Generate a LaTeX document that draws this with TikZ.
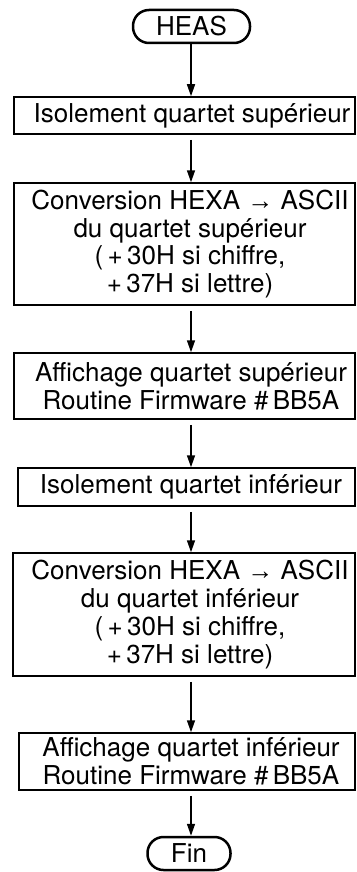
\documentclass[tikz,border=0pt]{standalone}
\usepackage{fontspec}
\setmainfont{TeX Gyre Heros}
\newfontfamily\arrfont{Liberation Sans}
\usetikzlibrary{arrows.meta}
\newcommand{\harr}{{\arrfont →}}
\begin{document}
\begin{tikzpicture}[x=1pt,y=-1pt,
  box/.style={draw, line width=1.5pt, inner sep=0pt},
  term/.style={draw, line width=2.5pt, rounded corners=16pt, inner sep=0pt,
    minimum height=33pt, font=\fontsize{26}{27.7}\selectfont},
  txt/.style={inner sep=0pt, align=center, font=\fontsize{26}{27.7}\selectfont},
  arr/.style={line width=1.5pt, -{Triangle[length=12pt,width=8pt]}},
  gap/.style={shorten <=5pt}]
\useasboundingbox (0,0) rectangle (356,872);
\coordinate (ax) at (191,0);
% terminals
\node[term, minimum width=117pt] (h) at (191.5,26.5) {HEAS};
\node[term, minimum width=83pt] (fin) at (189,853.5) {Fin};
% boxes
\node[box, minimum width=341pt, minimum height=37pt] (b1) at (184.5,115.5) {};
\node[box, minimum width=341pt, minimum height=122pt] (b2) at (184.5,244) {};
\node[box, minimum width=341pt, minimum height=66pt] (b3) at (184.5,386) {};
\node[box, minimum width=337pt, minimum height=38pt] (b4) at (186.5,487) {};
\node[box, minimum width=342pt, minimum height=123pt] (b5) at (184,614.5) {};
\node[box, minimum width=336pt, minimum height=57pt] (b6) at (187,761.5) {};
% texts
\node[txt] (t1) at (192,115.5) {Isolement quartet supérieur};
\node[txt] (t2) at (190,244) {Conversion HEXA \harr\ ASCII\\du quartet supérieur\\(\,+\,30H si chiffre,\\+\,37H si lettre)};
\node[txt] (t3) at (191,386) {Affichage quartet supérieur\\Routine Firmware \#\,BB5A};
\node[txt] (t4) at (191,487) {Isolement quartet inférieur};
\node[txt] (t5) at (190,614.5) {Conversion HEXA \harr\ ASCII\\du quartet inférieur\\(\,+\,30H si chiffre,\\+\,37H si lettre)};
\node[txt] (t6) at (191,761.5) {Affichage quartet inférieur\\Routine Firmware \#\,BB5A};
% arrows
\draw[arr] (h.south -| ax) -- (b1.north -| ax);
\draw[arr, gap] (b1.south -| ax) -- (b2.north -| ax);
\draw[arr, gap] (b2.south -| ax) -- (b3.north -| ax);
\draw[arr, gap] (b3.south -| ax) -- (b4.north -| ax);
\draw[arr, gap] (b4.south -| ax) -- (b5.north -| ax);
\draw[arr, gap] (b5.south -| ax) -- (b6.north -| ax);
\draw[arr, gap] (b6.south -| ax) -- (fin.north -| ax);
\end{tikzpicture}
\end{document}
